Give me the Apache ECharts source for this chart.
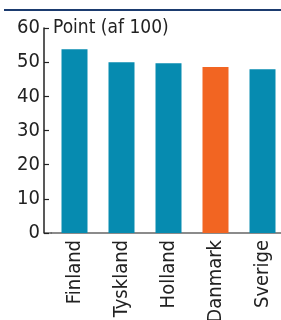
<!DOCTYPE html>
<html>
<head>
<meta charset="utf-8">
<script src="https://cdn.jsdelivr.net/npm/echarts@6/dist/echarts.min.js"></script>
<style>
    html, body { margin: 0; padding: 0; background: #fff; }
    #chart { width: 281px; height: 320px; }
</style>
</head>
<body>
<div id="chart"></div>
<script>
// Data
const countries = ['Finland', 'Tyskland', 'Holland', 'Danmark', 'Sverige'];
const points = [53.8, 50.0, 49.7, 48.6, 47.9];
const barColors = ['#068bb0', '#068bb0', '#068bb0', '#f26522', '#068bb0'];
const yTicks = [0, 10, 20, 30, 40, 50, 60];

const FONT = "'Liberation Sans Narrow', 'DejaVu Sans Condensed', sans-serif";

const chart = echarts.init(document.getElementById('chart'));

const option = {
    animation: false,
    textStyle: { fontFamily: FONT },
    grid: { left: 51, right: -5, top: 28, bottom: 87, outerBoundsMode: 'none', containLabel: false },
    graphic: [
        // cut-off title above the rule
        { type: 'text', left: 20, top: -13, style: { text: 'landes i 2008', fill: '#c8c8c8', font: '16px ' + FONT } },
        // navy rule at the top
        { type: 'rect', shape: { x: 4, y: 9, width: 277, height: 2 }, style: { fill: '#1b3b6f' } },
        // bottom axis segment between y axis and grid start
        { type: 'line', shape: { x1: 44, y1: 233, x2: 52, y2: 233 }, style: { stroke: '#666', lineWidth: 1.5 } }
    ],
    xAxis: {
        type: 'category',
        data: countries,
        axisLine: { lineStyle: { color: '#666', width: 1.5 } },
        axisTick: { show: false },
        axisLabel: { rotate: 90, color: '#222', fontSize: 20, margin: 7, fontFamily: FONT }
    },
    yAxis: {
        type: 'value',
        min: yTicks[0],
        max: yTicks[yTicks.length - 1],
        interval: 10,
        offset: 7,
        name: 'Point (af 100)',
        nameLocation: 'end',
        nameGap: 0,
        nameTextStyle: { color: '#222', fontSize: 19, align: 'left', verticalAlign: 'middle', padding: [0, 0, 0, 9], fontFamily: FONT },
        axisLine: { show: true, lineStyle: { color: '#222', width: 1.5 } },
        axisTick: { show: true, inside: true, length: 5, lineStyle: { color: '#222', width: 1.2 } },
        axisLabel: { color: '#222', fontSize: 20, margin: 4, fontFamily: FONT },
        splitLine: { show: false }
    },
    series: [{
        type: 'bar',
        barWidth: 26,
        data: points.map((v, i) => ({ value: v, itemStyle: { color: barColors[i] } }))
    }]
};

chart.setOption(option);
</script>
</body>
</html>
